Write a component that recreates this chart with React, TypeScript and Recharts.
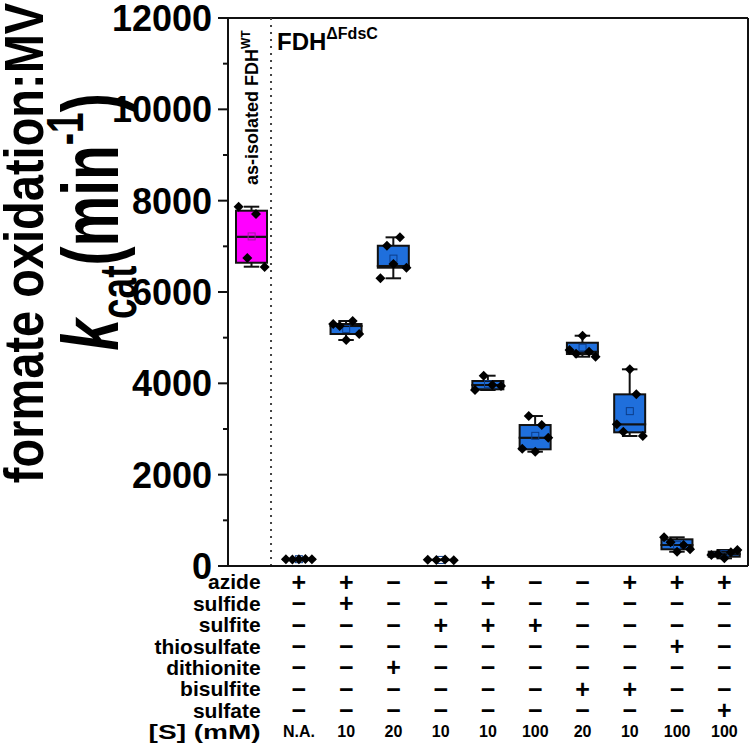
import React from "react";
import { ComposedChart, Bar, Scatter, XAxis, YAxis, ReferenceLine } from "recharts";

const FONT = "'Liberation Sans', Arial, Helvetica, sans-serif";
const MAGENTA = "#ff00ff";
const BLUE = "#1f6fdc";
const INK = "#111111";

// one entry per box, left to right
const categories = [
    "as-isolated FDH WT",
    "azide",
    "azide + sulfide",
    "dithionite",
    "sulfite",
    "azide + sulfite",
    "sulfite 100",
    "bisulfite",
    "azide + bisulfite",
    "azide + thiosulfate",
    "azide + sulfate",
];

// box statistics (min / 25% / median / 75% / max whisker, mean)
const whiskerLow = [6554, 140, 4949, 6300, 128, 3854, 2503, 4583, 2847, 313, 168];
const q1 = [6641, 145, 5080, 6532, 130, 3869, 2555, 4642, 2927, 366, 204];
const median = [7210, 150, 5255, 6570, 132, 3963, 2809, 4692, 3103, 460, 260];
const q3 = [7780, 152, 5299, 7013, 136, 4051, 3087, 4889, 3759, 584, 313];
const whiskerHigh = [7868, 155, 5365, 7197, 140, 4167, 3284, 5043, 4307, 628, 350];
const means = [7217, 149, 5190, 6731, 133, 3981, 2850, 4779, 3391, 457, 264];

// individual replicates, listed left to right as they sit in the jitter
const replicates = [
    [7868, 6744, 7708, 6547],
    [150, 140, 150, 155, 150],
    [5299, 5255, 4949, 5365, 5080],
    [6300, 7013, 6613, 7197, 6532],
    [135, 130, 140, 128],
    [3854, 4167, 3963, 3941],
    [2568, 3284, 2503, 3087, 2809],
    [4730, 4650, 5043, 4692, 4583],
    [3103, 2941, 4307, 3759, 2847],
    [628, 520, 313, 460, 366],
    [241, 260, 168, 300, 350],
];

const yTicks = [0, 1000, 2000, 3000, 4000, 5000, 6000, 7000, 8000, 9000, 10000, 11000, 12000];

// condition table under the axis
const rowLabels = ["azide", "sulfide", "sulfite", "thiosulfate", "dithionite", "bisulfite", "sulfate", "[S] (mM)"];
const azide = ["", "+", "+", "−", "−", "+", "−", "−", "+", "+", "+"];
const sulfide = ["", "−", "+", "−", "−", "−", "−", "−", "−", "−", "−"];
const sulfite = ["", "−", "−", "−", "+", "+", "+", "−", "−", "−", "−"];
const thiosulfate = ["", "−", "−", "−", "−", "−", "−", "−", "−", "+", "−"];
const dithionite = ["", "−", "−", "+", "−", "−", "−", "−", "−", "−", "−"];
const bisulfite = ["", "−", "−", "−", "−", "−", "−", "+", "+", "−", "−"];
const sulfate = ["", "−", "−", "−", "−", "−", "−", "−", "−", "−", "+"];
const concentration = ["", "N.A.", "10", "20", "10", "10", "100", "20", "10", "100", "100"];
const tableRows = [azide, sulfide, sulfite, thiosulfate, dithionite, bisulfite, sulfate];

const boxData = categories.map((name, i) => ({
    name,
    base: whiskerLow[i],
    lowWhisker: q1[i] - whiskerLow[i],
    lowBox: median[i] - q1[i],
    highBox: q3[i] - median[i],
    highWhisker: whiskerHigh[i] - q3[i],
}));

const pointData = replicates.flatMap((vals, i) =>
    vals.map((v, j) => ({
        x: i + 0.5 + (vals.length > 1 ? (j / (vals.length - 1) - 0.5) * 0.55 : 0),
        y: v,
    }))
);

const meanData = means.map((m, i) => ({ x: i + 0.5, y: m, i }));

const span = (p: any) => {
    const top = Math.min(p.y, p.y + p.height);
    const bottom = Math.max(p.y, p.y + p.height);
    return { top, bottom, cx: p.x + p.width / 2, cap: p.width / 4 };
};

const Empty = () => <g />;

const LowWhiskerShape = (p: any) => {
    const { top, bottom, cx, cap } = span(p);
    return (
        <g stroke={INK} strokeWidth={2}>
            <line x1={cx} x2={cx} y1={top} y2={bottom} />
            <line x1={cx - cap} x2={cx + cap} y1={bottom} y2={bottom} />
        </g>
    );
};

const HighWhiskerShape = (p: any) => {
    const { top, bottom, cx, cap } = span(p);
    return (
        <g stroke={INK} strokeWidth={2}>
            <line x1={cx} x2={cx} y1={top} y2={bottom} />
            <line x1={cx - cap} x2={cx + cap} y1={top} y2={top} />
        </g>
    );
};

const BoxShape = (p: any) => {
    const { top, bottom } = span(p);
    return (
        <rect
            x={p.x}
            y={top}
            width={p.width}
            height={bottom - top}
            fill={p.index === 0 ? MAGENTA : BLUE}
            stroke={INK}
            strokeWidth={2}
        />
    );
};

const Diamond = (p: any) => {
    const r = 5;
    return (
        <polygon
            points={`${p.cx},${p.cy - r} ${p.cx + r},${p.cy} ${p.cx},${p.cy + r} ${p.cx - r},${p.cy}`}
            fill="#000"
        />
    );
};

const MeanSquare = (p: any) => (
    <rect
        x={p.cx - 3.5}
        y={p.cy - 3.5}
        width={7}
        height={7}
        fill="none"
        stroke={p.payload.i === 0 ? "#a01aa0" : "#0c3d8a"}
        strokeWidth={1}
    />
);

const YTick = (p: any) => {
    const v = p.payload.value;
    const axisX = p.x + 16;
    const major = v % 2000 === 0;
    return (
        <g>
            <line x1={axisX - (major ? 10 : 5)} x2={axisX} y1={p.y} y2={p.y} stroke={INK} strokeWidth={2} />
            {major && (
                <text x={p.x} y={p.y} dy="0.36em" textAnchor="end" fontSize={36} fontWeight="bold" fontFamily={FONT} fill="#000">
                    {v}
                </text>
            )}
        </g>
    );
};

const ROW0 = 16;
const ROWH = 21.4;

const XTick = (p: any) => {
    const { x, y, index } = p;
    if (index === 0) {
        return (
            <g>
                {rowLabels.map((label, r) => (
                    <text
                        key={label}
                        x={x + 9}
                        y={y + ROW0 + r * ROWH}
                        dy="0.35em"
                        textAnchor="end"
                        fontSize={21}
                        fontWeight="bold"
                        fontFamily={FONT}
                        fill="#000"
                        textLength={r === 7 ? 112 : undefined}
                        lengthAdjust="spacingAndGlyphs"
                    >
                        {label}
                    </text>
                ))}
            </g>
        );
    }
    return (
        <g>
            {tableRows.map((row, r) => (
                <text
                    key={r}
                    x={x}
                    y={y + ROW0 + r * ROWH}
                    dy="0.35em"
                    textAnchor="middle"
                    fontSize={25}
                    fontWeight="bold"
                    fontFamily={FONT}
                    fill="#000"
                >
                    {row[index]}
                </text>
            ))}
            <text
                x={x}
                y={y + ROW0 + 7 * ROWH}
                dy="0.35em"
                textAnchor="middle"
                fontSize={16}
                fontWeight="bold"
                fontFamily={FONT}
                fill="#000"
            >
                {concentration[index]}
            </text>
        </g>
    );
};

export default function App() {
    return (
        <div style={{ position: "absolute", left: 0, top: 0, width: 751, height: 749, background: "#fff" }}>
            <ComposedChart width={751} height={749} data={boxData} margin={{ top: 18, right: 3, left: 0, bottom: 0 }}>
                <XAxis
                    xAxisId="cat"
                    dataKey="name"
                    height={183}
                    interval={0}
                    tickLine={false}
                    tickSize={0}
                    tickMargin={0}
                    axisLine={{ stroke: INK, strokeWidth: 2 }}
                    tick={<XTick />}
                />
                <XAxis xAxisId="num" dataKey="x" type="number" domain={[0, 11]} allowDataOverflow hide />
                <YAxis
                    type="number"
                    domain={[0, 12000]}
                    ticks={yTicks}
                    interval={0}
                    width={228}
                    tickLine={false}
                    tickSize={10}
                    tickMargin={6}
                    axisLine={{ stroke: INK, strokeWidth: 2 }}
                    tick={<YTick />}
                    allowDataOverflow
                />
                <ReferenceLine xAxisId="num" y={12000} stroke={INK} strokeWidth={2} />
                <ReferenceLine xAxisId="num" x={11} stroke={INK} strokeWidth={2} />
                <ReferenceLine xAxisId="num" x={0.91} stroke="#444" strokeWidth={2} strokeDasharray="2 5" />

                <Bar xAxisId="cat" dataKey="base" stackId="box" barSize={31} shape={<Empty />} isAnimationActive={false} />
                <Bar xAxisId="cat" dataKey="lowWhisker" stackId="box" barSize={31} shape={<LowWhiskerShape />} isAnimationActive={false} />
                <Bar xAxisId="cat" dataKey="lowBox" stackId="box" barSize={31} shape={<BoxShape />} isAnimationActive={false} />
                <Bar xAxisId="cat" dataKey="highBox" stackId="box" barSize={31} shape={<BoxShape />} isAnimationActive={false} />
                <Bar xAxisId="cat" dataKey="highWhisker" stackId="box" barSize={31} shape={<HighWhiskerShape />} isAnimationActive={false} />

                <Scatter xAxisId="num" data={meanData} dataKey="y" shape={<MeanSquare />} isAnimationActive={false} />
                <Scatter xAxisId="num" data={pointData} dataKey="y" shape={<Diamond />} isAnimationActive={false} />
            </ComposedChart>

            <svg width={751} height={749} style={{ position: "absolute", left: 0, top: 0, pointerEvents: "none" }}>
                <g fontFamily={FONT} fontWeight="bold" fill="#000">
                    <text transform="translate(43,243) rotate(-90) scale(1,1.17)" textAnchor="middle" fontSize={47}>
                        formate oxidation:MV
                    </text>
                    <text transform="translate(118,222) rotate(-90) scale(1,1.4)" textAnchor="middle" fontSize={57}>
                        <tspan fontStyle="italic">k</tspan>
                        <tspan fontSize={37} dy={13}>cat</tspan>
                        <tspan dy={-13}>(min</tspan>
                        <tspan fontSize={37} dy={-25}>-1</tspan>
                        <tspan dy={25}>)</tspan>
                    </text>
                    <text transform="translate(258,185) rotate(-90)" fontSize={18}>
                        as-isolated FDH<tspan fontSize={12} dy={-8}>WT</tspan>
                    </text>
                    <text x={277} y={50} fontSize={24}>
                        FDH<tspan fontSize={16} dy={-11}>ΔFdsC</tspan>
                    </text>
                </g>
            </svg>
        </div>
    );
}
